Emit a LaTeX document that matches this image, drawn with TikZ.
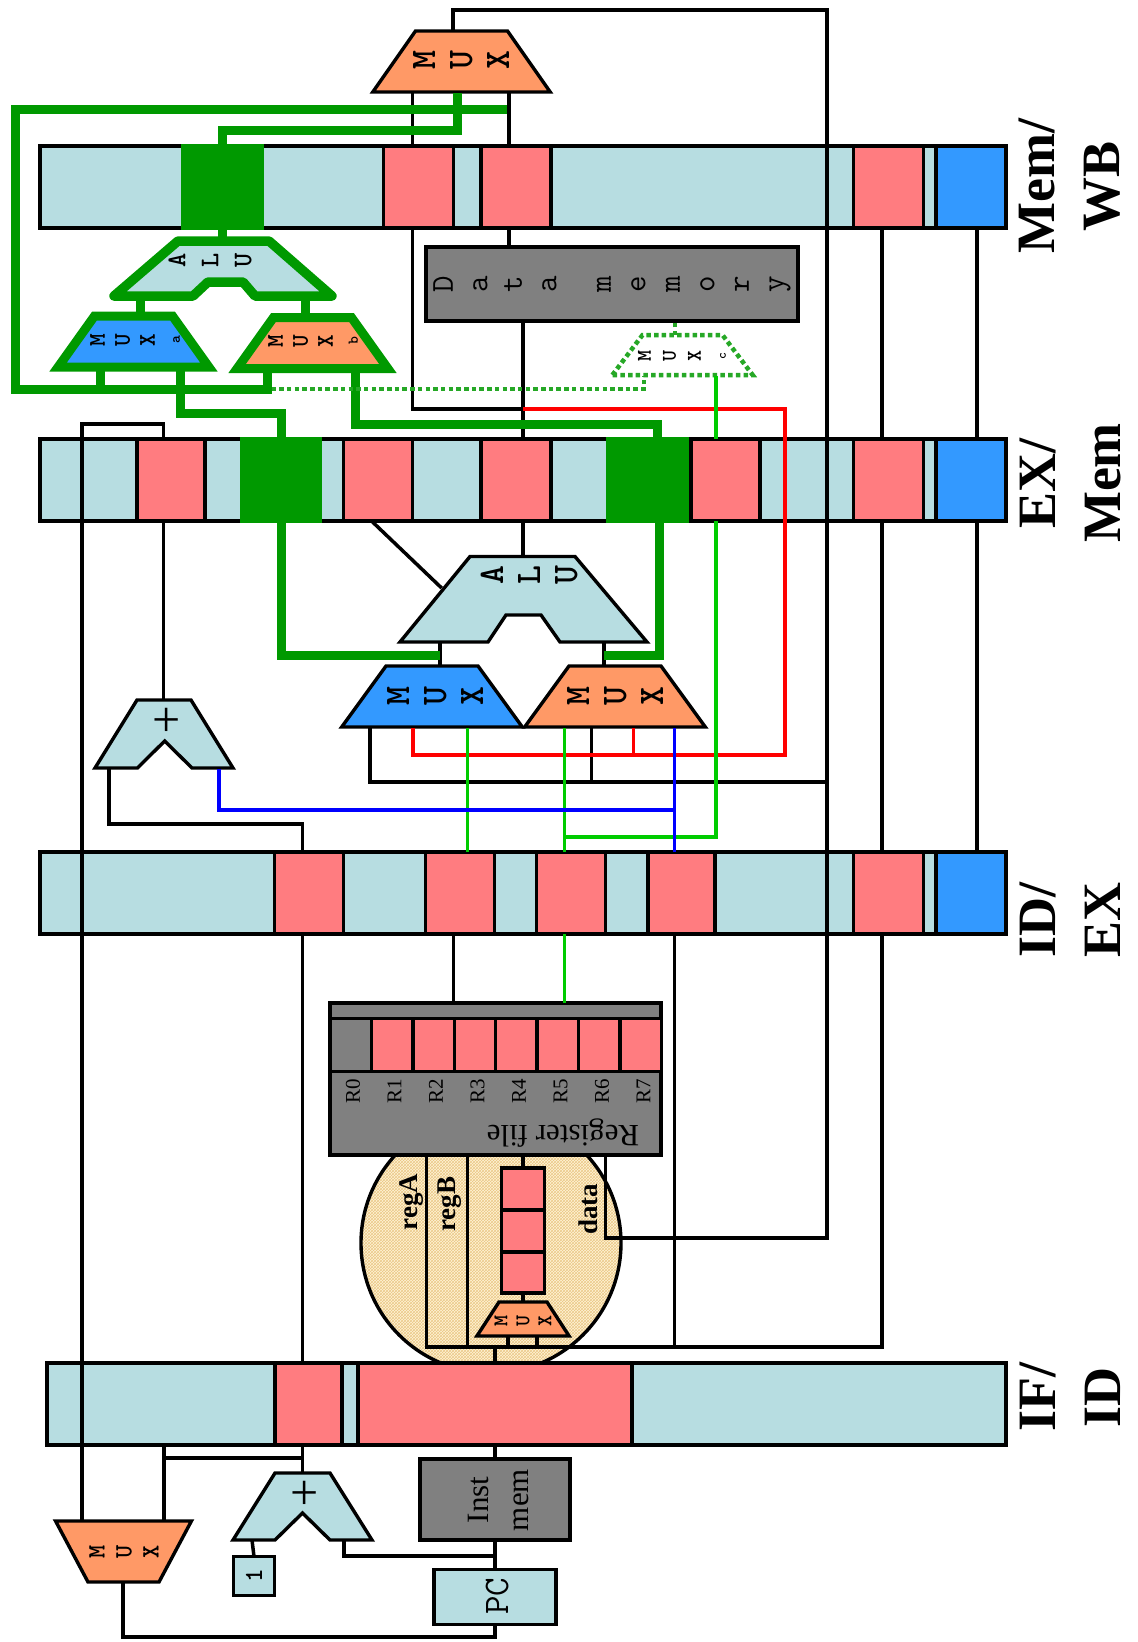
\documentclass[tikz,border=0pt]{standalone}
\usepackage{fontspec}
\setmainfont{Liberation Serif}
\usetikzlibrary{shapes.geometric,patterns}
\definecolor{latchblue}{HTML}{B7DDE1}
\definecolor{regred}{HTML}{FF7C80}
\definecolor{ctlblue}{HTML}{3399FF}
\definecolor{muxorange}{HTML}{FF9966}
\definecolor{unitgray}{HTML}{808080}
\definecolor{fwdgreen}{HTML}{009900}
\definecolor{datagreen}{HTML}{00CC00}
\definecolor{cream}{HTML}{FFF4D6}
\definecolor{hatch}{HTML}{EBC888}

\begin{document}
\begin{tikzpicture}[
 x=1pt,y=-1pt,
 bar/.style={draw,line width=3.4pt,fill=latchblue,inner sep=0pt,outer sep=0pt,minimum width=#1,minimum height=82pt},
 regcell/.style={bar=#1,fill=regred},
 ctlcell/.style={bar=#1,fill=ctlblue},
 fwdcell/.style={bar=#1,fill=fwdgreen,draw=fwdgreen},
 unit/.style={draw,line width=3.4pt,fill=unitgray,inner sep=0pt,outer sep=0pt},
 plain/.style={draw,line width=3.4pt,fill=latchblue,inner sep=0pt,outer sep=0pt},
 muxbox/.style n args={3}{trapezium,draw,line width=3.4pt,inner sep=0pt,outer sep=0pt,text width=#1,text height=#2,text depth=0pt,trapezium angle=#3},
 fwdmux/.style={muxbox={78pt}{51pt}{54.5},draw=fwdgreen,line width=9pt},
 muxtext/.style n args={2}{rotate=90,align=center,inner sep=0pt,font=\ttfamily\bfseries\fontsize{#1}{#2}\selectfont},
 stagelabel/.style={rotate=90,align=center,inner sep=0pt,font=\bfseries\fontsize{54}{65}\selectfont},
 reglabel/.style={rotate=90,inner sep=0pt,font=\fontsize{21}{21}\selectfont},
 fieldlabel/.style={rotate=90,inner sep=0pt,font=\bfseries\fontsize{27}{27}\selectfont},
 pluslabel/.style={inner sep=0pt,font=\fontsize{50}{50}\selectfont},
 wire/.style={line width=3.5pt},
 fwdwire/.style={line width=9pt,draw=fwdgreen},
 dotwire/.style={line width=4.5pt,draw=fwdgreen!85!white,dash pattern=on 4.5pt off 3.2pt},
 datawire/.style={line width=3.3pt,draw=datagreen},
 redwire/.style={line width=3.3pt,draw=red},
 bluewire/.style={line width=3.3pt,draw=blue}
]
\useasboundingbox (0,0) rectangle (1138,1642);

% decode area, under the register file and the IF/ID latch
\node[circle,draw,line width=3.4pt,minimum size=260pt,inner sep=0pt,outer sep=0pt,preaction={fill=cream},pattern=crosshatch,pattern color=hatch] (decode) at (491,1243) {};

% latches
\node[bar=966pt] (memwb) at (523,187) {};
\node[fwdcell=79pt] (memfwd) at (222.5,187) {};
\node[regcell=70pt] (memregA) at (418.5,187) {};
\node[regcell=70pt] (memregB) at (516,187) {};
\node[regcell=70pt] (memctl) at (888.5,187) {};
\node[ctlcell=70pt] (memwrite) at (971,187) {};

\node[bar=966pt] (exmem) at (523,480) {};
\node[regcell=68pt] (exregA) at (171,480) {};
\node[fwdcell=78pt] (exfwdA) at (281,480) {};
\node[regcell=69pt] (exregB) at (378,480) {};
\node[regcell=70pt] (exregC) at (516,480) {};
\node[fwdcell=80pt] (exfwdB) at (648,480) {};
\node[regcell=69pt] (exregD) at (725.5,480) {};
\node[regcell=70pt] (exctl) at (888.5,480) {};
\node[ctlcell=70pt] (exwrite) at (971,480) {};

\node[bar=966pt] (idex) at (523,893) {};
\node[regcell=69pt] (idregA) at (309,893) {};
\node[regcell=69pt] (idregB) at (460,893) {};
\node[regcell=69pt] (idregC) at (571,893) {};
\node[regcell=67pt] (idregD) at (681.5,893) {};
\node[regcell=70pt] (idctl) at (888.5,893) {};
\node[ctlcell=70pt] (idwrite) at (971,893) {};

\node[bar=959pt] (ifid) at (526.5,1404) {};
\node[regcell=67pt] (ifpc) at (308.5,1404) {};
\node[regcell=274pt] (ifinst) at (495,1404) {};

\node[stagelabel] (wblabel) at (1070,186) {Mem/\\WB};
\node[stagelabel] (memlabel) at (1070,483) {EX/\\Mem};
\node[stagelabel] (exlabel) at (1070,920) {ID/\\EX};
\node[stagelabel] (idlabel) at (1070,1397) {IF/\\ID};

% write back
\node[muxbox={92pt}{61pt}{55},fill=muxorange] (wbmux) at (461.5,61.5) {};
\node[muxtext={36}{37}] (wbmuxtext) at (461,60) {M\\U\\X};

% memory
\node[unit,minimum width=372pt,minimum height=74pt] (datamem) at (612,284) {};
\node[muxtext={32}{34.5},font=\ttfamily\fontsize{32}{34.5}\selectfont] (datamemtext) at (612,284) {D\\a\\t\\a\\[20pt]m\\e\\m\\o\\r\\y};

\node[fwdmux,fill=ctlblue] (muxa) at (133.5,341.5) {};
\node[muxtext={24}{25}] (muxatext) at (135,340) {M\\U\\X\\{\fontsize{15}{25}\selectfont a}};
\node[fwdmux,fill=muxorange] (muxb) at (312.5,343) {};
\node[muxtext={24}{25}] (muxbtext) at (313,341) {M\\U\\X\\{\fontsize{15}{25}\selectfont b}};
\node[muxbox={80pt}{40pt}{53},draw=fwdgreen!85!white,line width=4.5pt,dash pattern=on 4.5pt off 3.2pt] (muxc) at (682.5,355) {};
\node[muxtext={21}{25}] (muxctext) at (682,356) {M\\U\\X\\{\fontsize{13}{25}\selectfont c}};

\draw[line width=9.5pt,draw=fwdgreen,fill=latchblue,line join=round] (114,296) -- (178,241) -- (269,241) -- (332,296) -- (255,296) -- (243,282) -- (208,282) -- (193,296) -- cycle;
\node[muxtext={27}{33}] (memalu) at (210,260) {A\\L\\U};

% execute
\draw[line width=3.4pt,fill=latchblue] (400,642) -- (470,556.5) -- (575,556.5) -- (647,642) -- (560,642) -- (541,615) -- (506,615) -- (488,642) -- cycle;
\node[muxtext={36}{37}] (exalu) at (529,575) {A\\L\\U};
\node[muxbox={92pt}{61pt}{54},fill=ctlblue] (exmuxa) at (432,696.5) {};
\node[muxtext={36}{37}] (exmuxatext) at (435,696) {M\\U\\X};
\node[muxbox={92pt}{61pt}{54},fill=muxorange] (exmuxb) at (615,696.5) {};
\node[muxtext={36}{37}] (exmuxbtext) at (615,696) {M\\U\\X};

\draw[line width=3.4pt,fill=latchblue] (95,768) -- (137,700) -- (191,700) -- (233,768) -- (192,768) -- (164.7,741) -- (137.4,768) -- cycle;
\node[pluslabel] (explus) at (167,722) {+};

% decode
\node[unit,minimum width=331pt,minimum height=152pt] (regfile) at (495.5,1079) {};
\node[unit,minimum width=41.4pt,minimum height=53pt] (rzero) at (350.7,1045) {};
\node[regcell=41.4pt,minimum height=53pt] (rone) at (392.1,1045) {};
\node[regcell=41.4pt,minimum height=53pt] (rtwo) at (433.5,1045) {};
\node[regcell=41.4pt,minimum height=53pt] (rthree) at (474.9,1045) {};
\node[regcell=41.4pt,minimum height=53pt] (rfour) at (516.3,1045) {};
\node[regcell=41.4pt,minimum height=53pt] (rfive) at (557.7,1045) {};
\node[regcell=41.4pt,minimum height=53pt] (rsix) at (599.1,1045) {};
\node[regcell=41.4pt,minimum height=53pt] (rseven) at (640.5,1045) {};
\node[reglabel] (lzero) at (353,1091) {R0};
\node[reglabel] (lone) at (394.5,1091) {R1};
\node[reglabel] (ltwo) at (436,1091) {R2};
\node[reglabel] (lthree) at (477.5,1091) {R3};
\node[reglabel] (lfour) at (519,1091) {R4};
\node[reglabel] (lfive) at (560.5,1091) {R5};
\node[reglabel] (lsix) at (602,1091) {R6};
\node[reglabel] (lseven) at (643.5,1091) {R7};
\node[rotate=180,inner sep=0pt,font=\fontsize{31}{31}\selectfont] (regfiletext) at (563,1133) {Register file};

\node[regcell=43.5pt,minimum height=42pt] (stackA) at (523,1189) {};
\node[regcell=43.5pt,minimum height=42pt] (stackB) at (523,1231) {};
\node[regcell=43.5pt,minimum height=41pt] (stackC) at (523,1272.5) {};
\node[muxbox={48pt}{34pt}{57},fill=muxorange] (decmux) at (523,1319) {};
\node[muxtext={21}{22}] (decmuxtext) at (523,1321) {M\\U\\X};
\node[fieldlabel] (regAtext) at (412,1202) {regA};
\node[fieldlabel] (regBtext) at (450,1204) {regB};
\node[fieldlabel] (datatext) at (588,1209) {data};

% fetch
\node[muxbox={71pt}{61pt}{62},shape border rotate=180,fill=muxorange] (pcmux) at (123.5,1551.5) {};
\node[muxtext={25}{27}] (pcmuxtext) at (124,1552) {M\\U\\X};
\draw[line width=3.4pt,fill=latchblue] (233,1540) -- (275,1473) -- (330,1473) -- (372,1540) -- (330,1540) -- (302.5,1513) -- (275,1540) -- cycle;
\node[pluslabel] (ifplus) at (305,1495) {+};
\node[plain,minimum width=41pt,minimum height=39pt,font=\ttfamily\bfseries\fontsize{26}{26}\selectfont] (oneBox) at (254,1576) {\rotatebox{90}{1}};
\node[unit,minimum width=150pt,minimum height=81pt] (instmem) at (495,1499.5) {};
\node[rotate=90,align=center,inner sep=0pt,font=\fontsize{31}{40}\selectfont] (instmemtext) at (498,1500) {Inst\\mem};
\node[plain,minimum width=122pt,minimum height=55pt] (pc) at (495,1597) {};
\node[muxtext={36}{36},font=\ttfamily\fontsize{36}{36}\selectfont] (pctext) at (497,1596) {PC};

% ports and corners
\coordinate (wbTop) at (453,30);
\coordinate (wbCorner) at (827,10);
\coordinate (wbA) at (412.6,93);
\coordinate (wbB) at (509,93);
\coordinate (wbOut) at (457,93);
\coordinate (wbBend) at (457,130);
\coordinate (dataIn) at (605.5,1238);
\coordinate (loopA) at (507,109);
\coordinate (loopB) at (15.6,109);
\coordinate (loopC) at (15.6,389);
\coordinate (loopEnd) at (271.5,389);
\coordinate (muxaA) at (100,368);
\coordinate (muxaB) at (180,368);
\coordinate (muxaTurn) at (180,413);
\coordinate (muxbA) at (267,370);
\coordinate (muxbB) at (355.5,370);
\coordinate (muxbTurn) at (355.5,424);
\coordinate (exfwdBin) at (657,439);
\coordinate (exfwdBout) at (659,521);
\coordinate (muxcA) at (644,376);
\coordinate (muxcB) at (716,376);
\coordinate (muxcTop) at (675,335);
\coordinate (dmOut) at (523,322);
\coordinate (redStart) at (523,409);
\coordinate (redCorner) at (785,409);
\coordinate (redLow) at (785,755);
\coordinate (muxaRed) at (413,728);
\coordinate (muxbRed) at (633.5,728);
\coordinate (diagA) at (372.6,522);
\coordinate (diagB) at (441.6,588);
\coordinate (aluOut) at (523,556);
\coordinate (aluInA) at (440,643);
\coordinate (aluInB) at (604,643);
\coordinate (greenA) at (440,655);
\coordinate (greenB) at (604,655);
\coordinate (memaluTop) at (222.5,238);
\coordinate (memaluA) at (140,298);
\coordinate (memaluB) at (305,298);
\coordinate (pcIn) at (82,1521);
\coordinate (pcLoop) at (82,424);
\coordinate (pcLoopEnd) at (163.6,424);
\coordinate (adderOut) at (163.6,700);
\coordinate (addLeft) at (109,769);
\coordinate (addTurn) at (302.4,824);
\coordinate (addRight) at (219,769);
\coordinate (blueTurn) at (674.6,810);
\coordinate (muxaBlack) at (370,728);
\coordinate (muxbBlack) at (591.7,728);
\coordinate (teeRight) at (827,782);
\coordinate (muxaData) at (467.4,728);
\coordinate (muxbData) at (564.5,728);
\coordinate (muxbBlue) at (674.6,728);
\coordinate (dataTurn) at (564.5,837);
\coordinate (rfIn) at (453.6,1002);
\coordinate (regA) at (426.7,1347);
\coordinate (regB) at (467.6,1347);
\coordinate (decA) at (508,1336);
\coordinate (decB) at (537,1336);
\coordinate (decOut) at (495,1347);
\coordinate (rfRight) at (674.6,1347);
\coordinate (ctlRight) at (882,1347);
\coordinate (writeRight) at (977,240);
\coordinate (pcmuxR) at (164,1521);
\coordinate (ifTee) at (302.5,1458);
\coordinate (adderTop) at (302.5,1473);
\coordinate (addOneIn) at (252,1540);
\coordinate (addPcIn) at (344,1540);
\coordinate (pcTee) at (495,1556);
\coordinate (pcLow) at (495,1637);
\coordinate (pcOut) at (123,1582);

% black wires
\draw[wire] (wbTop) |- (wbCorner) |- (dataIn) -- (dataIn |- regfile.south);
\draw[wire] (wbA) -- (wbA |- memwb.north);
\draw[wire] (wbB) -- (wbB |- memwb.north);
\draw[wire] (wbA |- memwb.south) |- (redStart);
\draw[wire] (wbB |- memwb.south) -- (wbB |- datamem.north);
\draw[wire] (dmOut) -- (dmOut |- exmem.north);
\draw[wire] (ctlRight |- memwb.south) -- (ctlRight |- exmem.north);
\draw[wire] (ctlRight |- exmem.south) -- (ctlRight |- idex.north);
\draw[wire] (ctlRight |- idex.south) -- (ctlRight) -- (regA) -- (regA |- regfile.south);
\draw[wire] (writeRight |- memwb.south) -- (writeRight |- exmem.north);
\draw[wire] (writeRight |- exmem.south) -- (writeRight |- idex.north);
\draw[wire] (regB) -- (regB |- regfile.south);
\draw[wire] (dmOut |- exmem.south) -- (aluOut);
\draw[wire] (diagA) -- (diagB);
\draw[wire] (aluInA) -- (aluInA |- exmuxa.north);
\draw[wire] (aluInB) -- (aluInB |- exmuxb.north);
\draw[wire] (pcIn) -- (pcLoop) -- (pcLoopEnd) -- (pcLoopEnd |- exmem.north);
\draw[wire] (pcLoopEnd |- exmem.south) -- (adderOut);
\draw[wire] (addLeft) |- (addTurn) -- (addTurn |- idex.north);
\draw[wire] (addTurn |- idex.south) -- (addTurn |- ifid.north);
\draw[wire] (muxaBlack) |- (teeRight);
\draw[wire] (muxbBlack) -- (muxbBlack |- teeRight);
\draw[wire] (rfIn |- idex.south) -- (rfIn);
\draw[wire] (rfRight |- idex.south) -- (rfRight);
\draw[wire] (stackA.north) -- (stackA.north |- regfile.south);
\draw[wire] (stackC.south) -- (stackC.south |- decmux.north);
\draw[wire] (decA) -- (decA |- decOut);
\draw[wire] (decB) -- (decB |- decOut);
\draw[wire] (decOut) -- (decOut |- ifid.north);
\draw[wire] (pcmuxR) -- (pcmuxR |- ifid.south);
\draw[wire] (pcmuxR |- ifTee) -- (ifTee);
\draw[wire] (ifTee |- ifid.south) -- (adderTop);
\draw[wire] (ifinst.south) -- (instmem.north);
\draw[wire] (instmem.south) -- (pc.north);
\draw[wire] (addPcIn) |- (pcTee);
\draw[wire] (oneBox.north) -- (addOneIn);
\draw[wire] (pc.south) -- (pcLow) -| (pcOut);

% forwarding paths
\draw[fwdwire] (loopA) -- (loopB) -- (loopC) -- (loopEnd);
\draw[fwdwire] (wbOut) -- (wbBend) -| (memfwd.north);
\draw[fwdwire] (memfwd.south) -- (memaluTop);
\draw[fwdwire] (muxaA) -- (muxaA |- loopEnd);
\draw[fwdwire] (muxaB) -- (muxaTurn) -| (exfwdA.north);
\draw[fwdwire] (muxbA) -- (muxbA |- loopEnd);
\draw[fwdwire] (muxbB) -- (muxbTurn) -| (exfwdBin);
\draw[fwdwire] (exfwdA.south) |- (greenA);
\draw[fwdwire] (exfwdBout) |- (greenB);
\draw[fwdwire] (memaluA) -- (memaluA |- muxa.north);
\draw[fwdwire] (memaluB) -- (memaluB |- muxb.north);
\draw[dotwire] (loopEnd) -| (muxcA);
\draw[dotwire] (muxcTop) -- (muxcTop |- datamem.south);

% other coloured wires
\draw[redwire] (redStart) -- (redCorner) -- (redLow) -| (muxaRed);
\draw[redwire] (muxbRed) -- (muxbRed |- redLow);
\draw[datawire] (muxcB) -- (muxcB |- exmem.north);
\draw[datawire] (muxcB |- exmem.south) |- (dataTurn);
\draw[datawire] (muxaData) -- (muxaData |- idex.north);
\draw[datawire] (muxbData) -- (muxbData |- idex.north);
\draw[datawire] (muxbData |- idex.south) -- (muxbData |- regfile.north);
\draw[bluewire] (muxbBlue) -- (muxbBlue |- idex.north);
\draw[bluewire] (addRight) |- (blueTurn);
\end{tikzpicture}
\end{document}
